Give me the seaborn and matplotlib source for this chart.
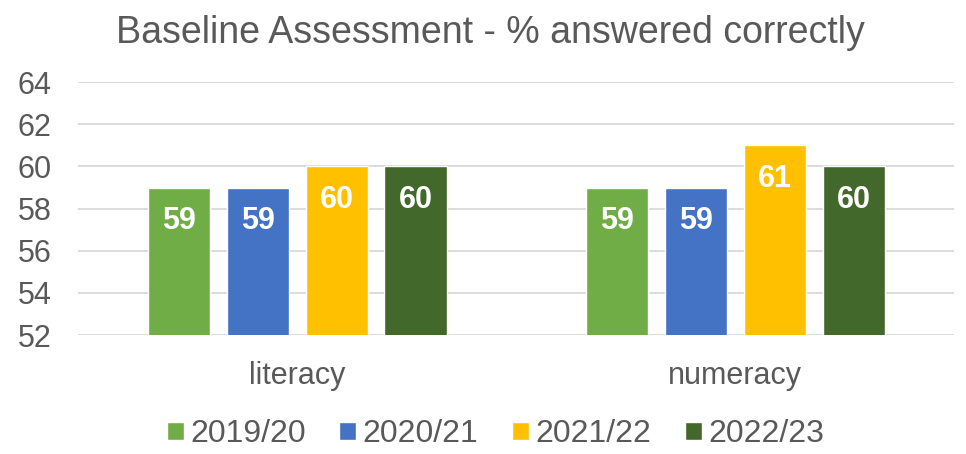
import matplotlib
matplotlib.use("Agg")
import matplotlib.pyplot as plt
import seaborn as sns
import pandas as pd

categories = ["literacy", "numeracy"]
years = ["2019/20", "2020/21", "2021/22", "2022/23"]
literacy = [59, 59, 60, 60]
numeracy = [59, 59, 61, 60]
colors = ["#70AD47", "#4472C4", "#FFC000", "#43682B"]

rows = []
for yr, l, n in zip(years, literacy, numeracy):
    rows.append({"subject": "literacy", "year": yr, "pct": l})
    rows.append({"subject": "numeracy", "year": yr, "pct": n})
df = pd.DataFrame(rows)

sns.set_style("white")
plt.rcParams["font.family"] = ["Liberation Sans", "DejaVu Sans"]
txt = "#595959"

fig, ax = plt.subplots(figsize=(9.66, 4.54), dpi=100)
fig.subplots_adjust(left=0.081, right=0.988, top=0.819, bottom=0.262)

sns.barplot(data=df, x="subject", y="pct", hue="year", order=categories,
            hue_order=years, palette=colors, width=0.72, gap=0.21,
            saturation=1, ax=ax, legend=True)

ax.set_ylim(52, 64)
ax.set_yticks(range(52, 65, 2))
ax.set_xlim(-0.5, 1.5)
ax.yaxis.grid(True, color="#D9D9D9", linewidth=1.3)
ax.set_axisbelow(True)
for s in ax.spines.values():
    s.set_visible(False)
ax.set_xlabel("")
ax.set_ylabel("")
ax.tick_params(axis="both", labelsize=22, colors=txt, length=0)
ax.tick_params(axis="y", pad=19)
ax.tick_params(axis="x", pad=19)

for c in ax.containers:
    ax.bar_label(c, fmt="%d", padding=-35, color="white", fontsize=22,
                 fontweight="bold")

ax.set_title("Baseline Assessment - % answered correctly", fontsize=27,
             color=txt, pad=28, x=0.47)

ax.legend(loc="center", bbox_to_anchor=(0.476, -0.393), ncol=4,
          frameon=False, fontsize=23, labelcolor=txt, handlelength=0.53,
          handleheight=0.5, handletextpad=0.2, columnspacing=1.05)

fig.savefig("out.png", dpi=100)
